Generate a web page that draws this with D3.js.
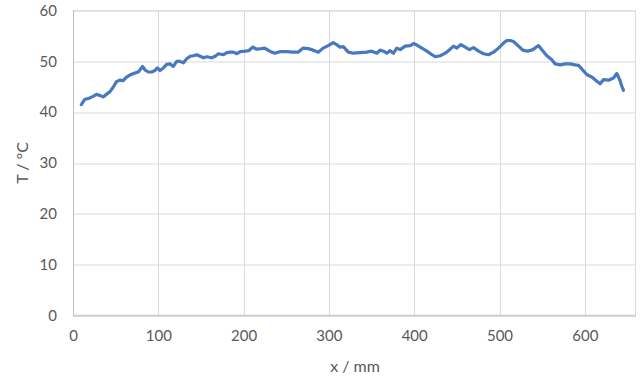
<!DOCTYPE html>
<html>
<head>
<meta charset="utf-8">
<script src="https://cdn.jsdelivr.net/npm/d3@7"></script>
<style>
  body { margin: 0; background: #fff; }
  svg text { font-family: Lato, "Open Sans", sans-serif; fill: #595959; }
</style>
</head>
<body>
<svg id="chart" width="640" height="381"></svg>
<script>
// position along sample (mm)
var xs = [9.8, 13.7, 19.6, 23.5, 27.5, 31.4, 35.3, 39.2, 43.1, 47.1, 51, 54.9, 58.8, 62.7, 66.7, 72.5, 76.5, 78.4, 81.6, 84.3,
  88.2, 92.2, 96.1, 98.8, 102, 105.9, 109.8, 113.7, 117.6, 121.6, 125.5, 129.4, 133.3, 137.3, 141.2, 145.1, 149, 153, 156.9, 162.7,
  166.7, 170.6, 176.5, 180.4, 184.3, 188.2, 192.2, 196.1, 201.9, 205.9, 211, 214.9, 220.8, 224.7, 230.6, 236.5, 242.4, 250.2, 258, 263.9,
  269.8, 275.7, 281.6, 287.5, 293.3, 299.2, 305.1, 309, 313, 316.9, 322.7, 328.6, 336.5, 344.3, 350.2, 356.1, 360, 363.9, 367.8, 371.8,
  375.7, 379.6, 383.5, 389.4, 395.3, 399.2, 403.1, 409, 414.9, 420.8, 424.7, 430.6, 436.3, 442.2, 446.1, 450, 454.7, 459.8, 464.8, 469.5,
  475.4, 481.3, 487.1, 493, 498.8, 504.7, 508.6, 512.5, 516.4, 522.3, 527.3, 532.8, 539.1, 545.7, 549.6, 555.5, 561.3, 565.2, 571.1, 576.9,
  582.8, 588.7, 592.6, 596.5, 602.3, 608.2, 614.1, 617.9, 621.9, 627.7, 633.6, 637.5, 640.6, 643.4, 645.3];
// temperature (°C)
var temps = [41.5, 42.5, 42.8, 43.1, 43.5, 43.3, 43.0, 43.5, 44.0, 44.9, 46.0, 46.3, 46.2, 46.9, 47.3, 47.7, 47.9, 48.3, 49.0, 48.3,
  47.9, 47.9, 48.2, 48.7, 48.2, 48.7, 49.4, 49.5, 49.0, 50.0, 50.0, 49.7, 50.5, 51.0, 51.1, 51.3, 51.0, 50.7, 50.9, 50.7,
  51.0, 51.5, 51.3, 51.7, 51.8, 51.8, 51.5, 51.9, 52.0, 52.1, 52.8, 52.4, 52.5, 52.6, 52.0, 51.6, 51.9, 51.9, 51.8, 51.8,
  52.6, 52.5, 52.2, 51.8, 52.6, 53.1, 53.7, 53.3, 52.8, 52.9, 51.8, 51.6, 51.7, 51.8, 52.0, 51.6, 52.2, 52.0, 51.6, 52.1,
  51.6, 52.6, 52.3, 53.0, 53.1, 53.5, 53.2, 52.6, 52.0, 51.3, 50.9, 51.1, 51.6, 52.4, 53.0, 52.6, 53.3, 52.8, 52.3, 52.7,
  52.0, 51.5, 51.3, 51.8, 52.6, 53.6, 54.1, 54.1, 53.9, 53.0, 52.2, 52.0, 52.3, 53.1, 52.3, 51.1, 50.3, 49.5, 49.3, 49.5,
  49.5, 49.3, 49.2, 48.5, 47.4, 46.9, 46.1, 45.6, 46.4, 46.3, 46.7, 47.6, 46.5, 45.1, 44.3];
var xTicks = [0, 100, 200, 300, 400, 500, 600];
var yTicks = [0, 10, 20, 30, 40, 50, 60];

var svg = d3.select("#chart");
var margin = {top: 10.5, right: 4, bottom: 65.5, left: 73};
var width = 640 - margin.left - margin.right;
var height = 381 - margin.top - margin.bottom;

var x = d3.scaleLinear().domain([0, 660]).range([0, width]);
var y = d3.scaleLinear().domain([0, 60]).range([height, 0]);

var g = svg.append("g")
  .attr("transform", "translate(" + margin.left + "," + margin.top + ")");

// gridlines
g.selectAll(".hgrid").data(yTicks).enter().append("line")
  .attr("x1", 0).attr("x2", width)
  .attr("y1", function(d) { return Math.round(y(d)) + 0.5; })
  .attr("y2", function(d) { return Math.round(y(d)) + 0.5; })
  .attr("stroke", "#d9d9d9").attr("stroke-width", 1);
g.selectAll(".vgrid").data(xTicks).enter().append("line")
  .attr("y1", 0).attr("y2", height)
  .attr("x1", function(d) { return Math.round(x(d)) + 0.5; })
  .attr("x2", function(d) { return Math.round(x(d)) + 0.5; })
  .attr("stroke", "#d9d9d9").attr("stroke-width", 1);

// plot area border
g.append("rect")
  .attr("x", 0.5).attr("y", 0.5)
  .attr("width", width - 1).attr("height", height - 1)
  .attr("fill", "none").attr("stroke", "#d9d9d9");

// axis lines
g.append("line").attr("x1", 0.5).attr("x2", 0.5).attr("y1", 0).attr("y2", height)
  .attr("stroke", "#bfbfbf");
g.append("line").attr("x1", 0).attr("x2", width).attr("y1", height + 0.5).attr("y2", height + 0.5)
  .attr("stroke", "#bfbfbf");

// axes (labels only)
var xAxis = d3.axisBottom(x).tickValues(xTicks).tickSize(0).tickPadding(15);
var yAxis = d3.axisLeft(y).tickValues(yTicks).tickSize(0).tickPadding(16);

var gx = g.append("g").attr("transform", "translate(0," + height + ")").call(xAxis);
var gy = g.append("g").call(yAxis);
[gx, gy].forEach(function(a) {
  a.select(".domain").remove();
  a.selectAll("text").style("font-size", "15px").attr("fill", "#595959");
});

// series
var pts = xs.map(function(d, i) { return [d, temps[i]]; });
var line = d3.line()
  .x(function(d) { return x(d[0]); })
  .y(function(d) { return y(d[1]); });
g.append("path")
  .datum(pts)
  .attr("d", line)
  .attr("fill", "none")
  .attr("stroke", "#4878bf")
  .attr("stroke-width", 3.2)
  .attr("stroke-linejoin", "round")
  .attr("stroke-linecap", "round");

// axis titles
svg.append("text")
  .attr("x", 355).attr("y", 372)
  .attr("text-anchor", "middle")
  .style("font-size", "16px")
  .text("x / mm");
svg.append("text")
  .attr("transform", "translate(28,163) rotate(-90)")
  .attr("text-anchor", "middle")
  .style("font-size", "16px")
  .text("T / °C");
</script>
</body>
</html>
